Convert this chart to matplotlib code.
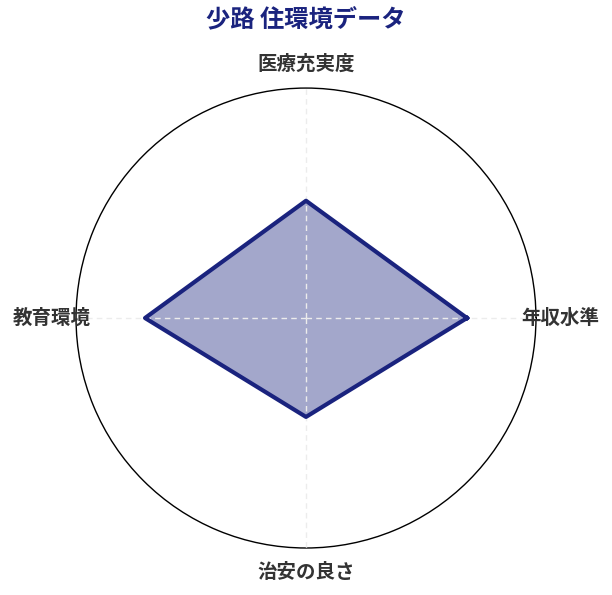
import numpy as np
import matplotlib.pyplot as plt

plt.rcParams['font.family'] = ['Noto Sans CJK JP', 'DejaVu Sans']

categories = ['年収水準', '医療充実度', '教育環境', '治安の良さ']
values = [70, 51, 70, 43]
r_max = 100
title = '少路 住環境データ'
navy = '#1a237e'

angles = np.linspace(0, 2 * np.pi, len(categories), endpoint=False)
a_closed = np.append(angles, angles[0])
v_closed = np.append(values, values[0])

fig = plt.figure(figsize=(6.12, 5.95), dpi=100)
ax = fig.add_axes([0.124, 0.079, 0.752, 0.773], projection='polar')

ax.fill(a_closed, v_closed, color=navy, alpha=0.4, lw=0, zorder=2)
ax.plot(a_closed, v_closed, color=navy, lw=3, zorder=3)

ax.set_ylim(0, r_max)
ax.set_yticks([])
ax.set_xticks(angles)
ax.set_xticklabels([])
ax.xaxis.grid(True, color='#ececec', linestyle=(0, (4, 3)), lw=1)
ax.yaxis.grid(False)
ax.set_axisbelow(False)
ax.spines['polar'].set_color('black')
ax.spines['polar'].set_linewidth(1)

for a, lab in zip(angles, categories):
    ax.text(a, r_max * 1.105, lab, ha='center', va='center', fontsize=14,
            fontweight='bold', color='#333333', clip_on=False)

fig.text(0.5, 0.966, title, ha='center', va='center', fontsize=17.5,
         fontweight='bold', color=navy)

fig.savefig('out.png', dpi=100)
